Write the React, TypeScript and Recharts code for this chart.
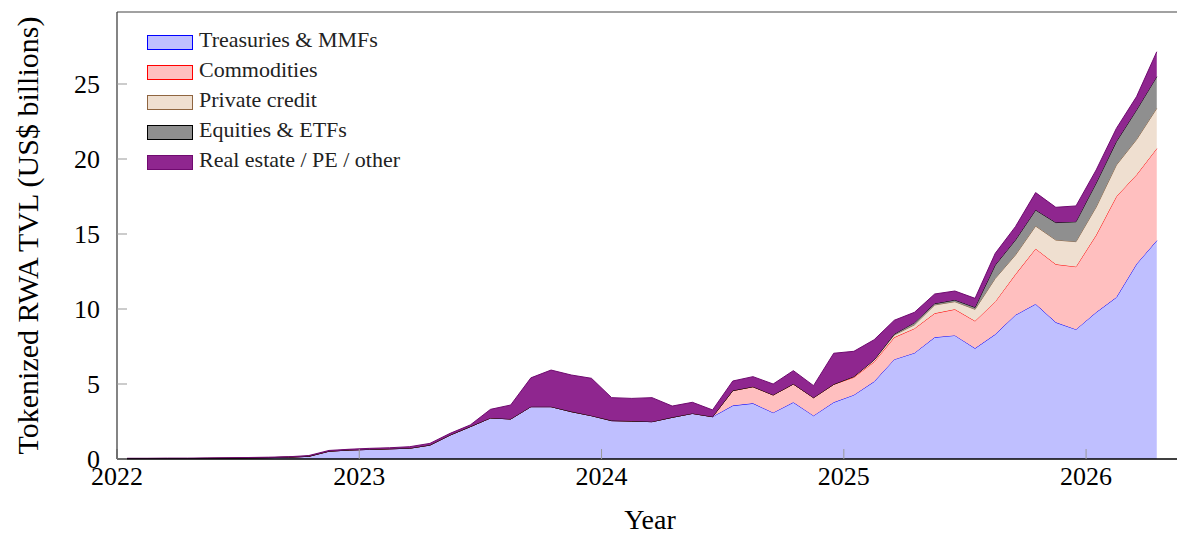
import { AreaChart, Area, XAxis, YAxis, Legend } from "recharts"

// month labels, Jan 2022 .. Apr 2026 (points sit at mid-month)
const months = [
  "2022-01", "2022-02", "2022-03", "2022-04", "2022-05", "2022-06", "2022-07", "2022-08", "2022-09", "2022-10", "2022-11", "2022-12",
  "2023-01", "2023-02", "2023-03", "2023-04", "2023-05", "2023-06", "2023-07", "2023-08", "2023-09", "2023-10", "2023-11", "2023-12",
  "2024-01", "2024-02", "2024-03", "2024-04", "2024-05", "2024-06", "2024-07", "2024-08", "2024-09", "2024-10", "2024-11", "2024-12",
  "2025-01", "2025-02", "2025-03", "2025-04", "2025-05", "2025-06", "2025-07", "2025-08", "2025-09", "2025-10", "2025-11", "2025-12",
  "2026-01", "2026-02", "2026-03", "2026-04",
]

const treasuries = [
  0.02, 0.02, 0.03, 0.03, 0.04, 0.05, 0.07, 0.09, 0.12, 0.18, 0.52, 0.6,
  0.64, 0.68, 0.72, 0.93, 1.6, 2.16, 2.74, 2.67, 3.49, 3.49, 3.16, 2.89,
  2.56, 2.53, 2.49, 2.78, 3.04, 2.82, 3.56, 3.71, 3.09, 3.78, 2.89, 3.78,
  4.27, 5.16, 6.64, 7.07, 8.11, 8.24, 7.38, 8.31, 9.6, 10.33, 9.11, 8.64,
  9.78, 10.78, 13.0, 14.56,
]

const commodities = [
  0, 0, 0, 0, 0, 0, 0, 0, 0, 0, 0, 0,
  0, 0, 0, 0, 0, 0, 0, 0, 0, 0, 0, 0,
  0, 0, 0, 0, 0, 0, 1.0, 1.11, 1.18, 1.22, 1.2, 1.2,
  1.18, 1.32, 1.47, 1.63, 1.6, 1.74, 1.82, 2.18, 2.71, 3.69, 3.87, 4.18,
  5.15, 6.72, 5.95, 6.14,
]

const privateCredit = [
  0, 0, 0, 0, 0, 0, 0, 0, 0, 0, 0, 0,
  0, 0, 0, 0, 0, 0, 0, 0, 0, 0, 0, 0,
  0, 0, 0, 0, 0, 0, 0, 0, 0, 0, 0, 0,
  0.05, 0.12, 0.16, 0.25, 0.56, 0.51, 0.78, 1.55, 1.29, 1.51, 1.62, 1.67,
  1.87, 2.1, 2.35, 2.68,
]

const equities = [
  0, 0, 0, 0, 0, 0, 0, 0, 0, 0, 0, 0,
  0, 0, 0, 0, 0, 0, 0, 0, 0, 0, 0, 0,
  0, 0, 0, 0, 0, 0, 0, 0, 0, 0, 0, 0,
  0, 0, 0.06, 0.14, 0.09, 0.11, 0.13, 0.89, 1.0, 1.07, 1.16, 1.33,
  1.6, 1.56, 1.97, 2.11,
]

const other = [
  0.03, 0.03, 0.03, 0.03, 0.03, 0.03, 0.03, 0.03, 0.03, 0.05, 0.05, 0.05,
  0.07, 0.07, 0.1, 0.11, 0.11, 0.11, 0.57, 0.93, 1.92, 2.44, 2.44, 2.49,
  1.53, 1.51, 1.6, 0.75, 0.74, 0.45, 0.64, 0.67, 0.73, 0.89, 0.8, 2.07,
  1.68, 1.35, 0.92, 0.69, 0.64, 0.6, 0.6, 0.78, 0.89, 1.16, 1.02, 1.05,
  0.87, 0.88, 0.89, 1.66,
]

const xTicks = [2022, 2023, 2024, 2025, 2026]
const yTicks = [0, 5, 10, 15, 20, 25]

const series = [
  { key: "treasuries", name: "Treasuries & MMFs", fill: "#bfbfff", stroke: "#0000ff" },
  { key: "commodities", name: "Commodities", fill: "#ffbfbf", stroke: "#ff0000" },
  { key: "privateCredit", name: "Private credit", fill: "#efdfd0", stroke: "#8f6540" },
  { key: "equities", name: "Equities & ETFs", fill: "#8f8f8f", stroke: "#000000" },
  { key: "other", name: "Real estate / PE / other", fill: "#8f268f", stroke: "#700a70" },
]

const data = months.map((m, i) => {
  const [y, mo] = m.split("-").map(Number)
  return {
    t: y + (mo - 0.5) / 12,
    treasuries: treasuries[i],
    commodities: commodities[i],
    privateCredit: privateCredit[i],
    equities: equities[i],
    other: other[i],
  }
})

const font = "'Liberation Serif', 'Times New Roman', serif"
const tickStyle = { fill: "#000", fontSize: 26, fontFamily: font }

function LegendBox() {
  return (
    <div style={{ fontFamily: font, fontSize: 22, color: "#222" }}>
      {series.map((s) => (
        <div key={s.key} style={{ display: "flex", alignItems: "center", height: 30 }}>
          <span
            style={{
              display: "inline-block",
              width: 44,
              height: 13,
              background: s.fill,
              border: `1px solid ${s.stroke}`,
              marginRight: 6,
            }}
          />
          <span style={{ position: "relative", top: -2, whiteSpace: "nowrap" }}>{s.name}</span>
        </div>
      ))}
    </div>
  )
}

export default function App() {
  return (
    <div style={{ position: "absolute", left: 0, top: 0, width: 1177, height: 533, overflow: "hidden", background: "#fff" }}>
      <AreaChart width={1184} height={533} data={data} margin={{ top: 11, right: 0, bottom: 0, left: 0 }}>
        {series.map((s) => (
          <Area
            key={s.key}
            type="linear"
            dataKey={s.key}
            name={s.name}
            stackId="rwa"
            fill={s.fill}
            fillOpacity={1}
            stroke={s.stroke}
            strokeWidth={1}
            dot={false}
            activeDot={false}
            isAnimationActive={false}
          />
        ))}
        <XAxis
          dataKey="t"
          type="number"
          domain={[2022, 2026.4]}
          allowDataOverflow
          ticks={xTicks}
          interval={0}
          height={74}
          tick={tickStyle}
          tickSize={-10}
          tickMargin={18}
          tickLine={{ stroke: "#999" }}
          axisLine={{ stroke: "#000", strokeWidth: 1.5 }}
          label={{ value: "Year", position: "center", dy: 23, fill: "#000", fontSize: 28, fontFamily: font }}
        />
        <XAxis
          xAxisId="top"
          dataKey="t"
          orientation="top"
          type="number"
          domain={[2022, 2026.4]}
          allowDataOverflow
          ticks={xTicks}
          interval={0}
          height={1}
          tick={false}
          tickSize={-10}
          tickLine={{ stroke: "#999" }}
          axisLine={{ stroke: "#444", strokeWidth: 1.2 }}
        />
        <YAxis
          type="number"
          domain={[0, 29.8]}
          allowDataOverflow
          ticks={yTicks}
          interval={0}
          width={117}
          tick={tickStyle}
          tickSize={-10}
          tickMargin={27}
          tickLine={{ stroke: "#999" }}
          axisLine={{ stroke: "#333", strokeWidth: 1.2 }}
          label={{
            value: "Tokenized RWA TVL (US$ billions)",
            angle: -90,
            position: "center",
            dx: -31,
            fill: "#000",
            fontSize: 30,
            fontFamily: font,
          }}
        />
        <YAxis
          yAxisId="right"
          orientation="right"
          type="number"
          domain={[0, 29.8]}
          allowDataOverflow
          ticks={yTicks}
          interval={0}
          width={1}
          tick={false}
          tickSize={-10}
          tickLine={{ stroke: "#999" }}
          axisLine={{ stroke: "#333", strokeWidth: 1.2 }}
        />
        <Legend
          layout="vertical"
          verticalAlign="middle"
          align="center"
          content={() => <LegendBox />}
          wrapperStyle={{ left: 147, top: 27, width: "auto" }}
        />
      </AreaChart>
    </div>
  )
}
